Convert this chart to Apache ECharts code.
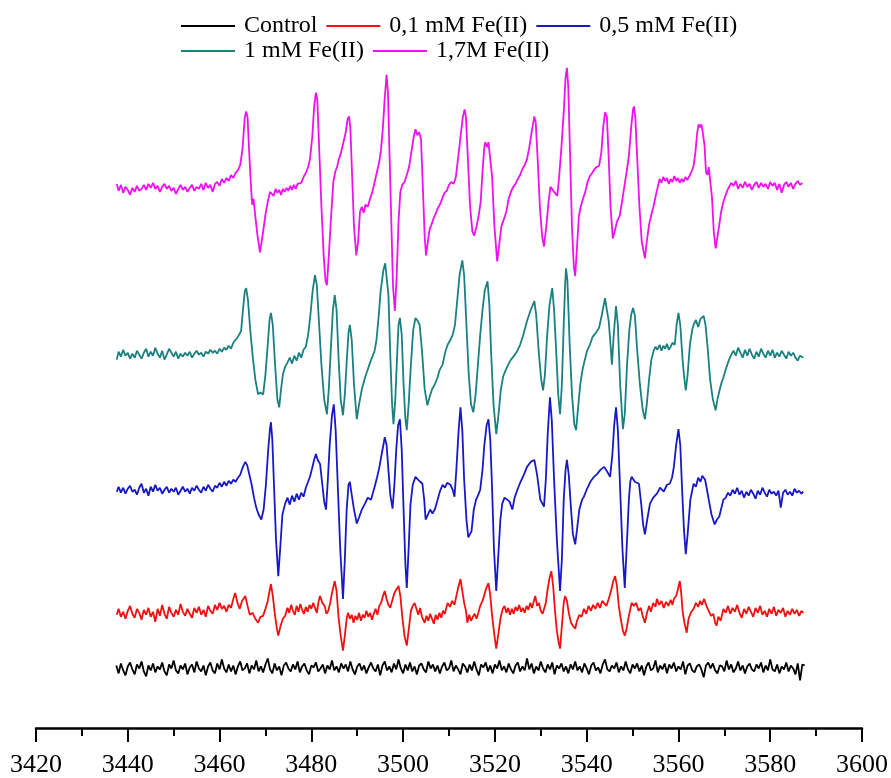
<!DOCTYPE html>
<html>
<head>
<meta charset="utf-8">
<script src="https://cdn.jsdelivr.net/npm/echarts@6/dist/echarts.min.js"></script>
<style>
html,body{margin:0;padding:0;background:#fff;}
#chart{width:891px;height:778px;}
</style>
</head>
<body>
<div id="chart"></div>
<script>
// Series names (legend labels)
const seriesNames = ['Control', '0,1 mM Fe(II)', '0,5 mM Fe(II)', '1 mM Fe(II)', '1,7M Fe(II)'];
const seriesColors = ['#000000', '#f01010', '#1818c8', '#1a8080', '#f010f0'];
// vertical stacking offsets (arbitrary intensity units)
const baselineOffsets = [61, 118, 240, 376, 545];
// x axis ticks (magnetic field, G)
const fieldMin = 3420, fieldMax = 3600, fieldStep = 20;

// Control: intensities on a uniform 0.5 G sampling grid starting at 3437.5 G
const controlStart = 3437.5, controlStep = 0.5;
const controlIntensity = [
 2,-6,4,-3,-8,1,5,-2,-7,3,-1,6,-4,-9,2,-3,4,-5,1,-2,
 5,-4,-8,3,-1,7,-3,-6,2,-2,4,-7,0,3,-5,6,-1,-4,2,-8,
 1,5,-3,-6,4,-2,8,-1,-5,3,-4,2,-7,1,6,-3,-1,4,-6,2,
 -2,7,-4,1,-5,3,9,-2,-6,4,-3,1,-8,2,5,-1,-4,3,-2,6,
 -5,1,4,-3,-7,2,0,5,-4,-1,3,-6,2,-2,7,-3,1,-5,4,-1,
 3,-4,6,-2,-7,1,4,-3,2,-6,0,5,-1,-4,3,-8,2,6,-3,1,
 -5,4,-2,8,-1,-6,3,-3,5,-4,1,-7,2,4,-2,-5,6,-1,3,-4,
 2,-6,1,5,-3,-1,7,-4,2,-2,-7,4,1,-5,3,-3,6,-2,-8,3,
 0,5,-4,2,-6,3,-1,7,-3,1,-5,4,-2,-6,2,5,-4,1,-3,9,
 -2,4,-6,1,-3,6,-1,-5,3,-2,5,-7,2,-1,4,-4,1,-6,3,-2,
 6,-3,1,-5,4,-1,-7,2,5,-3,0,-6,3,8,-2,-4,2,-1,5,-5,
 1,-3,6,-2,-6,3,-1,4,-4,2,-8,1,5,-3,-1,7,-5,2,-2,4,
 -6,3,-1,5,-4,1,-2,6,-7,2,4,-3,-5,1,3,-2,-10,2,5,-1,
 4,-3,-6,2,1,-4,7,-2,3,-5,-1,6,-3,2,-6,1,4,-2,-4,3,
 -1,5,-5,2,-3,8,-2,-4,3,-6,1,-2,5,-4,2,-1,-7,4,-13,3,
 2
];

// 0,1 mM Fe(II): [field G, intensity]
const spectrumFe01 = [
[3437.6,-4],[3438.0,2],[3438.5,-6],[3439.0,-1],[3439.5,-8],[3440.0,0],[3440.5,5],[3441.0,-3],[3441.5,-7],[3442.0,2],
[3442.5,-2],[3443.0,-9],[3443.5,1],[3444.0,-4],[3444.5,3],[3445.0,-6],[3445.5,-1],[3446.0,-11],[3446.5,2],[3447.0,-5],
[3447.5,6],[3448.0,-3],[3448.5,-8],[3449.0,4],[3449.5,-2],[3450.0,-6],[3450.5,1],[3451.0,-4],[3451.5,7],[3452.0,-1],
[3452.5,-5],[3453.0,2],[3453.5,-3],[3454.0,-7],[3454.5,3],[3455.0,-2],[3455.5,4],[3456.0,-4],[3456.5,1],[3457.0,-6],
[3457.5,5],[3458.0,0],[3458.5,-3],[3459.0,6],[3459.5,1],[3460.0,8],[3460.5,2],[3461.0,5],[3461.5,-1],[3462.0,6],
[3462.5,3],[3463.0,12],[3463.4,18],[3463.9,8],[3464.4,2],[3464.9,10],[3465.6,15],[3466.1,5],[3466.6,-4],[3467.2,-2],
[3467.8,-8],[3468.4,-12],[3468.9,-6],[3469.5,-5],[3470.0,2],[3470.5,10],[3470.9,20],[3471.2,27],[3471.6,15],[3472.1,-5],
[3472.5,-18],[3472.8,-25],[3473.3,-15],[3473.8,-8],[3474.3,-5],[3474.8,3],[3475.2,-2],[3475.6,6],[3476.0,0],[3476.4,-4],
[3476.8,5],[3477.2,-1],[3477.6,7],[3478.0,1],[3478.4,-3],[3478.8,4],[3479.2,-1],[3479.6,6],[3480.0,2],[3480.4,8],
[3480.8,3],[3481.2,-2],[3481.6,10],[3481.9,15],[3482.4,8],[3482.9,5],[3483.3,-3],[3483.7,0],[3484.1,8],[3484.6,20],
[3485.1,30],[3485.5,20],[3485.9,-5],[3486.4,-25],[3486.9,-40],[3487.3,-25],[3487.7,-8],[3488.0,-2],[3488.4,-8],[3488.8,-4],
[3489.2,-12],[3489.6,-5],[3490.0,-9],[3490.4,-2],[3490.8,-10],[3491.2,-4],[3491.6,-7],[3492.0,0],[3492.4,-6],[3492.8,-2],
[3493.2,-9],[3493.6,-3],[3494.0,2],[3494.4,-4],[3494.8,5],[3495.2,8],[3495.6,15],[3496.0,20],[3496.4,12],[3496.8,6],
[3497.2,3],[3497.6,10],[3498.1,18],[3498.6,22],[3499.0,25],[3499.4,15],[3499.8,-5],[3500.3,-25],[3500.8,-35],[3501.2,-20],
[3501.7,0],[3502.1,5],[3502.5,8],[3502.9,2],[3503.3,-4],[3503.7,3],[3504.1,-6],[3504.7,-12],[3505.1,-5],[3505.5,-10],
[3505.9,-3],[3506.3,-8],[3506.7,-13],[3507.1,-4],[3507.5,-9],[3507.9,-2],[3508.3,-7],[3508.7,0],[3509.1,-3],[3509.7,8],
[3510.2,4],[3510.7,10],[3511.2,6],[3511.6,15],[3512.1,25],[3512.5,32],[3512.9,20],[3513.3,8],[3513.7,0],[3514.0,-12],
[3514.4,-4],[3514.8,-10],[3515.2,-6],[3515.6,-3],[3516.0,-8],[3516.4,-2],[3516.8,5],[3517.3,10],[3517.8,18],[3518.2,24],
[3518.6,28],[3519.0,15],[3519.4,-5],[3519.9,-25],[3520.3,-38],[3520.7,-25],[3521.2,-8],[3521.7,2],[3522.1,5],[3522.5,-2],
[3522.9,3],[3523.3,-4],[3523.7,2],[3524.1,-3],[3524.5,4],[3524.9,0],[3525.3,6],[3525.7,-1],[3526.1,3],[3526.5,-2],
[3526.9,5],[3527.3,1],[3527.7,8],[3528.1,3],[3528.5,10],[3528.8,15],[3529.2,5],[3529.6,8],[3530.0,0],[3530.4,-3],
[3530.7,-5],[3531.1,8],[3531.5,22],[3531.9,33],[3532.3,40],[3532.7,25],[3533.1,0],[3533.5,-20],[3533.9,-32],[3534.2,-38],
[3534.6,-15],[3535.0,8],[3535.3,15],[3535.7,10],[3536.1,-2],[3536.6,-12],[3537.0,-15],[3537.5,-18],[3537.9,-10],[3538.4,-4],
[3538.9,-6],[3539.4,2],[3539.9,-3],[3540.4,5],[3540.9,0],[3541.4,6],[3541.9,2],[3542.4,8],[3542.9,3],[3543.4,10],
[3543.8,8],[3544.3,5],[3544.8,12],[3545.3,20],[3545.8,30],[3546.2,35],[3546.6,25],[3547.0,5],[3547.5,-10],[3547.9,-20],
[3548.3,-25],[3548.7,-18],[3549.2,-5],[3549.8,8],[3550.3,5],[3550.8,8],[3551.3,0],[3551.8,3],[3552.2,-5],[3552.7,-12],
[3553.1,-3],[3553.6,5],[3554.0,-1],[3554.5,8],[3555.0,4],[3555.3,12],[3555.8,6],[3556.3,10],[3556.8,3],[3557.3,9],
[3557.8,5],[3558.3,11],[3558.7,6],[3559.0,12],[3559.5,15],[3559.9,22],[3560.3,30],[3560.6,18],[3560.9,0],[3561.3,-12],
[3561.8,-22],[3562.2,-8],[3562.7,-2],[3563.3,2],[3563.8,8],[3564.3,4],[3564.7,10],[3565.1,6],[3565.6,12],[3566.1,5],
[3566.6,0],[3567.1,-5],[3567.6,-3],[3568.0,-12],[3568.3,-15],[3568.7,-6],[3569.2,-10],[3569.8,2],[3570.3,-2],[3570.8,5],
[3571.3,-3],[3571.8,3],[3572.3,-1],[3572.8,6],[3573.3,-2],[3573.8,-7],[3574.3,2],[3574.8,-3],[3575.3,4],[3575.8,-1],
[3576.3,-6],[3576.8,3],[3577.3,-2],[3577.8,5],[3578.3,-4],[3578.8,0],[3579.3,-6],[3579.8,2],[3580.3,-3],[3580.8,4],
[3581.3,-5],[3581.8,1],[3582.3,-2],[3582.8,3],[3583.3,-6],[3583.8,0],[3584.3,-4],[3584.8,2],[3585.3,-3],[3585.8,1],
[3586.3,-5],[3586.8,0],[3587.2,-2]
];

// 0,5 mM Fe(II)
const spectrumFe05 = [
[3437.6,-2],[3438.0,3],[3438.5,-3],[3439.0,2],[3439.5,-4],[3440.0,1],[3440.5,4],[3441.0,-2],[3441.5,0],[3442.0,-5],
[3442.5,2],[3443.0,6],[3443.5,-3],[3444.0,1],[3444.5,-6],[3445.0,3],[3445.5,-2],[3446.0,5],[3446.5,-1],[3447.0,2],
[3447.5,-4],[3448.0,0],[3448.5,3],[3449.0,-3],[3449.5,1],[3450.0,-2],[3450.5,2],[3451.0,-5],[3451.5,-1],[3452.0,3],
[3452.5,-2],[3453.0,1],[3453.5,-4],[3454.0,2],[3454.5,-1],[3455.0,4],[3455.5,0],[3456.0,-3],[3456.5,3],[3457.0,-1],
[3457.5,5],[3458.0,1],[3458.5,-2],[3459.0,4],[3459.5,2],[3460.0,7],[3460.5,3],[3461.0,8],[3461.5,4],[3462.0,9],
[3462.5,6],[3463.0,10],[3463.5,8],[3464.0,12],[3464.5,15],[3465.0,22],[3465.6,28],[3466.0,25],[3466.5,15],[3467.0,5],
[3467.5,-8],[3468.0,-18],[3468.5,-25],[3469.1,-30],[3469.6,-20],[3470.1,5],[3470.6,40],[3471.0,62],[3471.2,68],[3471.5,50],
[3471.9,0],[3472.3,-50],[3472.8,-87],[3473.2,-60],[3473.7,-25],[3474.3,-14],[3474.8,-8],[3475.3,-15],[3475.8,-6],[3476.3,-12],
[3476.8,-4],[3477.3,-10],[3477.8,-3],[3478.3,-7],[3478.8,2],[3479.3,8],[3479.7,13],[3480.2,22],[3480.6,30],[3481.0,36],
[3481.4,30],[3481.9,26],[3482.4,5],[3482.8,-12],[3483.2,-20],[3483.6,10],[3484.0,45],[3484.5,75],[3484.9,86],[3485.3,60],
[3485.8,0],[3486.3,-60],[3486.9,-110],[3487.3,-70],[3487.7,-20],[3488.1,5],[3488.4,8],[3488.8,-5],[3489.3,-20],[3489.9,-34],
[3490.4,-28],[3491.0,-20],[3491.7,-14],[3492.3,-8],[3493.0,-10],[3493.8,3],[3494.3,12],[3494.8,22],[3495.3,35],[3495.7,45],
[3496.0,53],[3496.4,45],[3496.8,20],[3497.2,-5],[3497.7,-19],[3498.1,5],[3498.5,40],[3498.9,65],[3499.3,71],[3499.7,40],
[3500.1,-20],[3500.5,-75],[3500.8,-99],[3501.2,-60],[3501.6,-15],[3502.1,5],[3502.7,13],[3503.3,10],[3504.2,6],[3504.6,-10],
[3504.9,-30],[3505.4,-25],[3505.9,-20],[3506.4,-24],[3506.9,-20],[3507.4,-12],[3508.0,-2],[3508.6,5],[3509.1,2],[3509.6,7],
[3510.3,5],[3510.8,0],[3511.2,-7],[3511.6,20],[3512.1,60],[3512.5,83],[3512.9,60],[3513.3,10],[3513.8,-30],[3514.2,-48],
[3514.5,-50],[3514.9,-42],[3515.4,-20],[3515.9,-10],[3516.4,-5],[3516.8,0],[3517.3,20],[3517.7,45],[3518.2,65],[3518.6,71],
[3519.0,50],[3519.4,0],[3519.8,-60],[3520.3,-102],[3520.7,-70],[3521.2,-30],[3521.6,-14],[3522.1,-8],[3522.7,-10],[3523.2,-12],
[3523.8,-20],[3524.3,-8],[3524.9,0],[3525.6,8],[3526.3,15],[3527.0,23],[3527.8,28],[3528.6,30],[3529.2,15],[3529.9,-10],
[3530.3,-12],[3530.7,-17],[3531.1,10],[3531.5,55],[3532.0,93],[3532.4,70],[3532.9,10],[3533.5,-50],[3534.2,-102],[3534.6,-70],
[3535.0,-10],[3535.4,20],[3535.7,30],[3536.1,15],[3536.6,-20],[3537.0,-45],[3537.5,-55],[3537.9,-40],[3538.4,-20],[3539.0,-10],
[3539.4,-7],[3540.0,0],[3540.8,8],[3541.6,13],[3542.3,16],[3543.0,20],[3543.8,23],[3544.5,18],[3545.1,13],[3545.6,35],
[3546.0,65],[3546.4,83],[3546.8,60],[3547.3,0],[3547.8,-60],[3548.3,-99],[3548.7,-60],[3549.2,-10],[3549.5,8],[3549.8,13],
[3550.5,8],[3551.4,6],[3551.9,-15],[3552.3,-35],[3552.7,-45],[3553.2,-30],[3553.8,-14],[3554.5,-8],[3555.3,-4],[3556.0,2],
[3556.8,-2],[3557.5,5],[3558.1,6],[3558.6,12],[3559.0,23],[3559.5,45],[3560.0,61],[3560.4,45],[3560.8,0],[3561.2,-40],
[3561.6,-65],[3562.0,-45],[3562.6,-10],[3563.3,6],[3563.8,3],[3564.3,12],[3564.8,8],[3565.2,14],[3565.5,16],[3565.8,10],
[3566.1,3],[3566.6,-10],[3567.2,-25],[3567.9,-35],[3568.4,-30],[3568.9,-27],[3569.3,-25],[3569.8,-10],[3570.3,-8],[3570.8,-3],
[3571.3,-6],[3571.8,0],[3572.3,-4],[3572.8,2],[3573.3,-5],[3573.8,-1],[3574.3,-8],[3574.8,-2],[3575.3,-6],[3575.8,0],
[3576.3,-4],[3576.8,-9],[3577.3,-1],[3577.8,-5],[3578.3,2],[3578.8,-3],[3579.3,-7],[3579.8,0],[3580.3,-4],[3580.8,-2],
[3581.3,-6],[3581.8,-1],[3582.3,-18],[3582.8,-3],[3583.3,0],[3583.8,-5],[3584.3,-2],[3584.8,-6],[3585.3,1],[3585.8,-3],
[3586.3,-1],[3586.8,-4],[3587.2,-2]
];

// 1 mM Fe(II)
const spectrumFe1 = [
[3437.6,-5],[3438.0,3],[3438.5,-2],[3439.0,5],[3439.5,-1],[3440.0,2],[3440.5,-4],[3441.0,1],[3441.5,-3],[3442.0,4],
[3442.5,0],[3443.0,-4],[3443.5,2],[3444.0,6],[3444.5,-2],[3445.0,3],[3445.5,-1],[3446.0,7],[3446.5,1],[3447.0,-3],
[3447.5,4],[3448.0,-5],[3448.5,0],[3449.0,6],[3449.5,2],[3450.0,-2],[3450.5,3],[3451.0,-4],[3451.5,1],[3452.0,-2],
[3452.5,2],[3453.0,-1],[3453.5,3],[3454.0,-3],[3454.5,1],[3455.0,4],[3455.5,0],[3456.0,2],[3456.5,-2],[3457.0,3],
[3457.5,1],[3458.0,5],[3458.5,2],[3459.0,4],[3459.5,1],[3460.0,6],[3460.5,3],[3461.0,7],[3461.5,5],[3462.0,9],
[3462.5,6],[3463.0,12],[3463.4,13],[3464.0,18],[3464.7,24],[3465.1,45],[3465.5,64],[3465.8,67],[3466.2,55],[3466.6,30],
[3466.9,14],[3467.3,-5],[3467.8,-25],[3468.4,-40],[3468.9,-38],[3469.5,-40],[3470.0,-20],[3470.5,10],[3470.9,35],[3471.2,42],
[3471.6,30],[3472.1,-10],[3472.6,-45],[3473.0,-53],[3473.4,-35],[3473.8,-20],[3474.3,-12],[3474.8,-8],[3475.3,-3],[3475.8,-9],
[3476.3,-1],[3476.8,-6],[3477.3,2],[3477.8,-3],[3478.3,5],[3478.8,8],[3479.3,20],[3479.8,40],[3480.3,65],[3480.8,80],
[3481.2,70],[3481.7,30],[3482.2,-10],[3482.8,-45],[3483.4,-60],[3483.8,-35],[3484.3,10],[3484.7,45],[3485.1,60],[3485.5,45],
[3485.9,0],[3486.4,-45],[3486.9,-61],[3487.3,-40],[3487.8,0],[3488.1,22],[3488.4,30],[3488.8,15],[3489.3,-30],[3489.9,-65],
[3490.4,-50],[3491.0,-35],[3491.7,-23],[3492.3,-15],[3492.8,-8],[3493.3,-2],[3493.8,4],[3494.2,15],[3494.7,40],[3495.1,64],
[3495.7,85],[3496.1,92],[3496.4,94],[3496.8,60],[3497.2,0],[3497.6,-50],[3497.9,-70],[3498.3,-45],[3498.7,0],[3499.0,30],
[3499.3,37],[3499.7,20],[3500.1,-30],[3500.5,-65],[3500.8,-76],[3501.2,-50],[3501.7,-10],[3502.2,25],[3502.7,37],[3503.2,34],
[3503.6,30],[3504.1,5],[3504.7,-35],[3505.3,-51],[3505.8,-42],[3506.3,-35],[3506.9,-30],[3507.5,-23],[3508.0,-15],[3508.6,-10],
[3509.2,3],[3509.7,10],[3510.2,14],[3510.8,20],[3511.3,30],[3511.8,55],[3512.3,80],[3512.9,95],[3513.3,80],[3513.8,30],
[3514.3,-20],[3514.8,-50],[3515.3,-58],[3515.8,-40],[3516.3,-10],[3516.8,20],[3517.3,45],[3517.8,65],[3518.4,74],[3518.8,50],
[3519.2,0],[3519.7,-50],[3520.3,-80],[3520.8,-60],[3521.3,-35],[3521.8,-22],[3522.3,-16],[3522.9,-10],[3523.5,-5],[3524.2,-1],
[3524.9,4],[3525.5,10],[3526.2,20],[3527.0,34],[3527.8,45],[3528.6,54],[3529.0,40],[3529.6,0],[3530.1,-25],[3530.5,-36],
[3530.9,-20],[3531.4,20],[3531.9,50],[3532.5,67],[3532.9,45],[3533.4,0],[3533.8,-40],[3534.2,-60],[3534.6,-30],[3535.0,30],
[3535.3,70],[3535.5,87],[3535.8,75],[3536.3,10],[3536.8,-40],[3537.3,-70],[3537.7,-76],[3538.1,-55],[3538.6,-30],[3539.1,-15],
[3539.6,-5],[3540.1,4],[3540.7,10],[3541.3,18],[3542.0,22],[3542.7,27],[3543.3,40],[3544.0,57],[3544.4,45],[3544.8,34],
[3545.2,10],[3545.5,-10],[3545.9,20],[3546.4,49],[3546.8,30],[3547.3,-30],[3547.9,-75],[3548.3,-60],[3548.8,-10],[3549.3,25],
[3549.7,40],[3550.1,47],[3550.5,40],[3551.0,5],[3551.6,-30],[3552.2,-55],[3552.7,-65],[3553.1,-50],[3553.6,-25],[3554.1,-5],
[3554.6,4],[3555.0,8],[3555.4,5],[3555.9,10],[3556.3,4],[3556.7,9],[3557.1,6],[3557.5,11],[3557.9,5],[3558.3,8],
[3558.7,12],[3559.2,10],[3559.6,30],[3560.0,42],[3560.4,30],[3560.9,-5],[3561.3,-25],[3561.6,-36],[3562.0,-20],[3562.5,10],
[3563.0,25],[3563.3,30],[3563.8,35],[3564.3,28],[3564.8,36],[3565.2,34],[3565.5,39],[3565.9,30],[3566.4,5],[3566.9,-25],
[3567.5,-45],[3568.1,-56],[3568.5,-45],[3569.0,-35],[3569.4,-28],[3569.8,-23],[3570.3,-15],[3570.8,-8],[3571.3,-2],[3572.0,4],
[3572.5,-1],[3573.0,7],[3573.5,2],[3574.0,-3],[3574.5,5],[3575.0,-1],[3575.5,6],[3576.0,0],[3576.5,-4],[3577.0,3],
[3577.5,-2],[3578.0,6],[3578.5,1],[3579.0,-3],[3579.5,4],[3580.0,-1],[3580.5,5],[3581.0,-3],[3581.5,2],[3582.0,-2],
[3582.5,4],[3583.0,0],[3583.5,-4],[3584.0,3],[3584.5,-1],[3585.0,2],[3585.5,-3],[3586.0,-6],[3586.5,-1],[3587.2,-3]
];

// 1,7M Fe(II)
const spectrumFe17 = [
[3437.6,3],[3438.0,-4],[3438.5,2],[3439.0,-6],[3439.5,0],[3440.0,-3],[3440.5,-8],[3441.0,-1],[3441.5,-5],[3442.0,1],
[3442.5,-4],[3443.0,-2],[3443.5,2],[3444.0,-3],[3444.5,3],[3445.0,-1],[3445.5,4],[3446.0,-2],[3446.5,1],[3447.0,-5],
[3447.5,0],[3448.0,3],[3448.5,-2],[3449.0,1],[3449.5,-4],[3450.0,-1],[3450.5,-7],[3451.0,-2],[3451.5,2],[3452.0,-3],
[3452.5,0],[3453.0,-5],[3453.5,-1],[3454.0,2],[3454.5,-4],[3455.0,0],[3455.5,-2],[3456.0,3],[3456.5,-3],[3457.0,4],
[3457.5,-1],[3458.0,2],[3458.5,-5],[3459.0,3],[3459.5,5],[3460.0,1],[3460.5,8],[3461.0,4],[3461.5,9],[3462.0,6],
[3462.5,12],[3463.0,9],[3463.5,14],[3464.0,17],[3464.5,22],[3465.0,38],[3465.5,70],[3465.8,76],[3466.1,70],[3466.4,40],
[3466.8,5],[3467.1,-18],[3467.4,-12],[3467.8,-30],[3468.3,-50],[3468.8,-66],[3469.1,-64],[3469.5,-45],[3470.0,-28],[3470.5,-15],
[3471.0,-5],[3471.4,-3],[3471.8,-9],[3472.2,-2],[3472.6,-6],[3473.0,-3],[3473.4,-8],[3473.8,-2],[3474.2,-5],[3474.6,-1],
[3475.0,-4],[3475.4,1],[3475.8,-3],[3476.2,2],[3476.6,-2],[3477.0,3],[3477.4,1],[3477.8,4],[3478.3,10],[3478.8,14],
[3479.3,20],[3479.7,28],[3480.2,50],[3480.6,80],[3481.0,95],[3481.3,88],[3481.7,40],[3482.2,-20],[3482.7,-70],[3483.1,-95],
[3483.4,-99],[3483.8,-70],[3484.3,-30],[3484.8,5],[3485.2,15],[3485.6,20],[3486.0,28],[3486.5,35],[3487.0,45],[3487.5,55],
[3487.9,68],[3488.2,71],[3488.5,60],[3488.9,10],[3489.3,-40],[3489.8,-69],[3490.2,-55],[3490.6,-25],[3491.0,-20],[3491.4,-26],
[3491.8,-18],[3492.3,-20],[3492.8,-12],[3493.3,-5],[3493.8,5],[3494.3,15],[3494.8,25],[3495.2,38],[3495.6,60],[3496.0,90],
[3496.4,113],[3496.7,95],[3497.0,40],[3497.4,-30],[3497.8,-100],[3498.2,-125],[3498.6,-90],[3499.0,-35],[3499.4,-5],[3499.8,2],
[3500.3,5],[3500.8,12],[3501.3,20],[3501.8,35],[3502.3,50],[3502.7,58],[3503.1,52],[3503.5,55],[3503.9,48],[3504.3,0],
[3504.7,-50],[3505.0,-69],[3505.4,-55],[3505.8,-42],[3506.2,-38],[3506.6,-32],[3507.0,-28],[3507.5,-22],[3508.0,-18],[3508.5,-12],
[3509.0,-6],[3509.5,-4],[3510.0,2],[3510.5,5],[3511.0,3],[3511.5,10],[3512.0,30],[3512.5,50],[3513.0,70],[3513.4,78],
[3513.7,70],[3514.1,30],[3514.6,-20],[3515.1,-45],[3515.5,-49],[3516.0,-40],[3516.5,-28],[3516.9,-15],[3517.3,15],[3517.7,40],
[3517.9,45],[3518.3,40],[3518.6,45],[3519.0,44],[3519.4,10],[3519.9,-40],[3520.5,-75],[3520.9,-60],[3521.4,-40],[3522.0,-32],
[3522.5,-25],[3523.0,-12],[3523.5,-5],[3524.0,0],[3524.5,3],[3525.0,8],[3525.5,12],[3526.0,18],[3526.5,22],[3527.0,28],
[3527.5,40],[3528.0,55],[3528.6,71],[3528.9,65],[3529.3,30],[3529.8,-20],[3530.3,-50],[3530.7,-60],[3531.2,-40],[3531.7,-15],
[3532.1,0],[3532.5,1],[3532.9,-5],[3533.3,-3],[3533.6,-9],[3534.0,10],[3534.5,40],[3535.0,75],[3535.4,110],[3535.7,120],
[3536.0,100],[3536.4,30],[3536.8,-40],[3537.2,-80],[3537.5,-90],[3537.9,-60],[3538.3,-30],[3538.7,-20],[3539.2,-12],[3539.7,-5],
[3540.2,5],[3540.7,11],[3541.2,14],[3541.7,18],[3542.2,20],[3542.7,21],[3543.2,35],[3543.6,60],[3544.0,75],[3544.4,71],
[3544.8,30],[3545.2,-20],[3545.7,-52],[3546.1,-45],[3546.6,-35],[3547.2,-29],[3547.7,-15],[3548.2,0],[3548.7,15],[3549.2,31],
[3549.7,60],[3550.1,78],[3550.3,81],[3550.6,70],[3551.0,30],[3551.5,-20],[3552.0,-55],[3552.7,-72],[3553.1,-55],[3553.6,-38],
[3554.1,-28],[3554.6,-19],[3555.0,-10],[3555.5,0],[3555.9,8],[3556.3,4],[3556.7,10],[3557.1,6],[3557.5,9],[3557.9,3],
[3558.3,8],[3558.7,5],[3559.1,11],[3559.5,6],[3559.9,9],[3560.3,4],[3560.7,8],[3561.1,5],[3561.5,10],[3561.9,7],
[3562.4,11],[3562.9,16],[3563.3,21],[3563.7,35],[3564.1,55],[3564.4,63],[3564.7,60],[3565.0,63],[3565.3,55],[3565.7,41],
[3566.0,15],[3566.3,12],[3566.6,20],[3566.9,22],[3567.3,-10],[3567.7,-45],[3568.1,-62],[3568.5,-50],[3568.9,-38],[3569.3,-25],
[3569.8,-15],[3570.3,-8],[3570.7,-3],[3571.1,-2],[3571.5,4],[3572.0,1],[3572.5,6],[3573.0,-2],[3573.5,3],[3574.0,-1],
[3574.5,5],[3575.0,0],[3575.5,3],[3576.0,-3],[3576.5,2],[3577.0,5],[3577.5,-1],[3578.0,4],[3578.5,0],[3579.0,3],
[3579.5,-2],[3580.0,5],[3580.5,1],[3581.0,4],[3581.5,-3],[3582.0,3],[3582.5,-6],[3583.0,2],[3583.5,5],[3584.0,0],
[3584.5,4],[3585.0,-2],[3585.5,3],[3586.0,6],[3586.5,2],[3587.0,4]
];

const controlSpectrum = controlIntensity.map((v, i) => [controlStart + controlStep * i, v]);
const spectra = [controlSpectrum, spectrumFe01, spectrumFe05, spectrumFe1, spectrumFe17];

const chart = echarts.init(document.getElementById('chart'), null, {renderer: 'canvas'});
const serif = 'Liberation Serif';

const series = spectra.map((sp, k) => ({
  name: seriesNames[k],
  type: 'line',
  symbol: 'none',
  showSymbol: false,
  smooth: false,
  animation: false,
  data: sp.map(p => [p[0], p[1] + baselineOffsets[k]]),
  lineStyle: {color: seriesColors[k], width: 1.8},
  itemStyle: {color: seriesColors[k]},
  z: 2 + k
}));

const legendCommon = {
  orient: 'horizontal',
  icon: 'rect',
  itemWidth: 54,
  itemHeight: 2,
  itemGap: 9,
  textStyle: {fontFamily: serif, fontSize: 24, color: '#000', padding: [0, 0, 0, 4]},
  inactiveColor: '#ccc'
};

chart.setOption({
  backgroundColor: '#ffffff',
  animation: false,
  legend: [
    Object.assign({}, legendCommon, {data: seriesNames.slice(0, 3), left: 176, top: 9}),
    Object.assign({}, legendCommon, {data: seriesNames.slice(3), left: 176, top: 34})
  ],
  grid: {left: 36, right: 28, top: 33, bottom: 45, containLabel: false},
  xAxis: {
    type: 'value',
    min: fieldMin,
    max: fieldMax,
    interval: fieldStep,
    axisLine: {show: true, onZero: false, lineStyle: {color: '#000', width: 2.5}},
    axisTick: {show: true, length: 14, lineStyle: {color: '#000', width: 2}},
    minorTick: {show: true, splitNumber: 2, length: 8, lineStyle: {color: '#000', width: 2}},
    splitLine: {show: false},
    minorSplitLine: {show: false},
    axisLabel: {fontFamily: serif, fontSize: 26, color: '#000', margin: 24, formatter: v => String(v)}
  },
  yAxis: {type: 'value', min: 0, max: 700, show: false},
  series: series
});
</script>
</body>
</html>
